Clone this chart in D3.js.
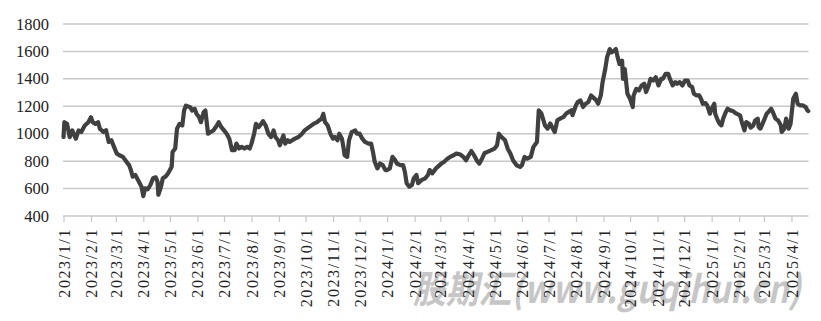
<!DOCTYPE html>
<html>
<head>
<meta charset="utf-8">
<script src="https://cdn.jsdelivr.net/npm/d3@7"></script>
<style>
  html, body { margin: 0; padding: 0; background: #fff; }
  svg { display: block; }
</style>
</head>
<body>
<svg id="chart" width="821" height="321"></svg>
<script>
const dates = [
  "2023-01-01","2023-01-02","2023-01-05","2023-01-08","2023-01-11","2023-01-14","2023-01-15","2023-01-18","2023-01-21","2023-01-25","2023-01-29",
  "2023-02-01","2023-02-03","2023-02-06","2023-02-09","2023-02-11","2023-02-15","2023-02-18","2023-02-21","2023-02-24","2023-02-27",
  "2023-03-02","2023-03-05","2023-03-09","2023-03-13","2023-03-16","2023-03-18","2023-03-20","2023-03-23","2023-03-26","2023-03-30",
  "2023-04-01","2023-04-03","2023-04-06","2023-04-09","2023-04-12","2023-04-15","2023-04-17","2023-04-18","2023-04-21","2023-04-23","2023-04-26","2023-04-29",
  "2023-05-03","2023-05-04","2023-05-07","2023-05-09","2023-05-12","2023-05-15","2023-05-17","2023-05-19","2023-05-24","2023-05-26","2023-05-29","2023-05-31",
  "2023-06-03","2023-06-05","2023-06-08","2023-06-10","2023-06-13","2023-06-16","2023-06-19","2023-06-23","2023-06-25","2023-06-28",
  "2023-07-01","2023-07-04","2023-07-07","2023-07-10","2023-07-13","2023-07-15","2023-07-18","2023-07-21","2023-07-24","2023-07-27","2023-07-30",
  "2023-08-01","2023-08-04","2023-08-06","2023-08-09","2023-08-12","2023-08-14","2023-08-17","2023-08-20","2023-08-23","2023-08-26","2023-08-28","2023-08-31",
  "2023-09-02","2023-09-04","2023-09-06","2023-09-08","2023-09-11","2023-09-13","2023-09-16","2023-09-19","2023-09-23","2023-09-27","2023-09-30",
  "2023-10-05","2023-10-10","2023-10-14","2023-10-16","2023-10-19","2023-10-21","2023-10-23","2023-10-26","2023-10-29",
  "2023-11-01","2023-11-03","2023-11-06","2023-11-08","2023-11-11","2023-11-13","2023-11-14","2023-11-17","2023-11-19","2023-11-22","2023-11-26","2023-11-28",
  "2023-12-01","2023-12-04","2023-12-07","2023-12-11","2023-12-14","2023-12-16","2023-12-18","2023-12-21","2023-12-24","2023-12-27","2023-12-30",
  "2024-01-01","2024-01-04","2024-01-07","2024-01-10","2024-01-12","2024-01-16","2024-01-19","2024-01-21","2024-01-23","2024-01-26","2024-01-29","2024-01-31",
  "2024-02-03","2024-02-05","2024-02-09","2024-02-13","2024-02-16","2024-02-18","2024-02-21","2024-02-25","2024-02-27",
  "2024-03-02","2024-03-05","2024-03-09","2024-03-12","2024-03-16","2024-03-19","2024-03-23","2024-03-27","2024-03-30",
  "2024-04-02","2024-04-05","2024-04-08","2024-04-11","2024-04-14","2024-04-17","2024-04-20","2024-04-23","2024-04-27",
  "2024-05-01","2024-05-04","2024-05-06","2024-05-09","2024-05-13","2024-05-16","2024-05-19","2024-05-22","2024-05-26","2024-05-30",
  "2024-06-01","2024-06-04","2024-06-07","2024-06-11","2024-06-14","2024-06-18","2024-06-20","2024-06-23","2024-06-27","2024-06-30",
  "2024-07-03","2024-07-05","2024-07-08","2024-07-11","2024-07-14","2024-07-18","2024-07-21","2024-07-24","2024-07-27","2024-07-28",
  "2024-08-01","2024-08-03","2024-08-06","2024-08-09","2024-08-12","2024-08-15","2024-08-18","2024-08-20","2024-08-24","2024-08-26","2024-08-29","2024-08-31",
  "2024-09-03","2024-09-05","2024-09-08","2024-09-10","2024-09-13","2024-09-15","2024-09-17","2024-09-19","2024-09-22","2024-09-23","2024-09-25","2024-09-28",
  "2024-10-01","2024-10-04","2024-10-05","2024-10-08","2024-10-11","2024-10-14","2024-10-17","2024-10-19","2024-10-22","2024-10-24","2024-10-27","2024-10-30",
  "2024-11-02","2024-11-05","2024-11-07","2024-11-10","2024-11-13","2024-11-15","2024-11-18","2024-11-21","2024-11-23","2024-11-26","2024-11-29",
  "2024-12-02","2024-12-05","2024-12-07","2024-12-10","2024-12-12","2024-12-15","2024-12-18","2024-12-20","2024-12-22","2024-12-25","2024-12-27","2024-12-30",
  "2025-01-01","2025-01-04","2025-01-05","2025-01-08","2025-01-10","2025-01-12","2025-01-14","2025-01-17","2025-01-19","2025-01-22","2025-01-25","2025-01-29",
  "2025-02-02","2025-02-04","2025-02-07","2025-02-09","2025-02-12","2025-02-14","2025-02-17","2025-02-19","2025-02-22","2025-02-23","2025-02-25",
  "2025-03-01","2025-03-04","2025-03-06","2025-03-09","2025-03-11","2025-03-14","2025-03-17","2025-03-20","2025-03-21","2025-03-24","2025-03-26","2025-03-29","2025-03-31",
  "2025-04-03","2025-04-06","2025-04-08","2025-04-11","2025-04-14","2025-04-17","2025-04-19","2025-04-20"
];
const prices = [
  976,1084,1072,975,1024,976,964,1024,1012,1060,1084,
  1120,1084,1072,1084,1036,1012,1025,940,952,904,
  856,843,831,795,771,735,687,699,663,614,
  545,602,595,626,675,682,651,555,614,675,687,711,
  759,867,892,1036,1072,1060,1169,1205,1193,1169,1181,1145,
  1120,1084,1157,1169,1000,1012,1024,1060,1084,1048,
  1024,1000,964,880,880,928,892,904,892,904,892,
  928,1000,1072,1048,1072,1092,1060,1000,976,1024,976,952,
  916,952,988,928,952,940,952,964,976,1000,1024,
  1048,1072,1084,1096,1108,1145,1084,1060,1000,
  964,976,952,1000,964,892,843,831,952,1012,1024,1000,
  1000,964,940,928,928,867,795,747,783,771,735,
  735,747,831,807,783,771,771,723,639,614,626,675,
  699,639,663,675,699,735,711,747,758,
  782,794,818,831,843,855,850,831,806,
  843,874,843,806,782,818,860,867,879,
  891,916,1000,976,952,891,855,806,770,758,
  770,831,818,831,904,940,1171,1147,1061,1037,
  1074,1049,1013,1098,1110,1123,1147,1159,1171,1135,
  1207,1231,1243,1195,1219,1231,1279,1267,1243,1219,1279,1376,
  1472,1557,1617,1593,1605,1617,1557,1508,1533,1400,1472,1292,
  1255,1195,1279,1327,1316,1352,1364,1304,1352,1400,1388,1412,
  1352,1400,1400,1436,1436,1400,1352,1376,1364,1376,1352,
  1388,1388,1352,1340,1291,1279,1279,1255,1218,1223,1206,1146,
  1182,1218,1146,1097,1073,1061,1110,1158,1182,1170,1165,1146,
  1134,1085,1025,1085,1073,1044,1061,1097,1110,1049,1037,
  1097,1146,1158,1182,1158,1110,1097,1061,1013,1037,1110,1037,1073,
  1255,1291,1218,1206,1206,1194,1170,1165
];
const yTicks = [400, 600, 800, 1000, 1200, 1400, 1600, 1800];
const xTickLabels = [
  "2023/1/1","2023/2/1","2023/3/1","2023/4/1","2023/5/1","2023/6/1","2023/7/1","2023/8/1","2023/9/1","2023/10/1","2023/11/1","2023/12/1",
  "2024/1/1","2024/2/1","2024/3/1","2024/4/1","2024/5/1","2024/6/1","2024/7/1","2024/8/1","2024/9/1","2024/10/1","2024/11/1","2024/12/1",
  "2025/1/1","2025/2/1","2025/3/1","2025/4/1"
];
const watermark = "股期汇(www.guqihui.cn)";

const parseDate = d3.utcParse("%Y-%m-%d");
const parseTick = d3.utcParse("%Y/%m/%d");
const data = dates.map((d, i) => ({ date: parseDate(d), value: prices[i] }));

const svg = d3.select("#chart");
const x = d3.scaleUtc()
  .domain([parseDate("2023-01-01"), parseDate("2025-04-20")])
  .range([63.5, 808.3]);
const y = d3.scaleLinear().domain([400, 1800]).range([216, 24]);

// watermark (behind everything)
svg.append("text")
  .attr("x", 413).attr("y", 303)
  .attr("textLength", 388).attr("lengthAdjust", "spacingAndGlyphs")
  .style("font-family", "'Noto Sans CJK SC', sans-serif")
  .style("font-size", "38px").style("font-weight", "bold").style("font-style", "italic")
  .style("fill", "#bdbdbd").style("opacity", 0.85)
  .text(watermark);

// gridlines
svg.append("g").selectAll("line")
  .data(yTicks.filter(t => t > 400))
  .join("line")
  .attr("x1", 63).attr("x2", 808.5)
  .attr("y1", d => y(d)).attr("y2", d => y(d))
  .attr("stroke", "#c8c8c8").attr("stroke-width", 1.5);

// y labels
svg.append("g").selectAll("text")
  .data(yTicks)
  .join("text")
  .attr("x", 49).attr("y", d => y(d))
  .attr("text-anchor", "end").attr("dominant-baseline", "central")
  .style("font-family", "'Liberation Serif', serif").style("font-size", "16.5px")
  .style("fill", "#222")
  .text(d => d);

// x axis
const tickDates = xTickLabels.map(s => parseTick(s));
const xAxis = d3.axisBottom(x)
  .tickValues(tickDates)
  .tickSize(6)
  .tickFormat((d, i) => xTickLabels[i]);
const gx = svg.append("g").attr("transform", "translate(0,216)").call(xAxis);
gx.select(".domain").attr("stroke", "#c8c8c8").attr("stroke-width", 1.5)
  .attr("d", "M63,0H808.5");
gx.selectAll(".tick line").attr("stroke", "#c8c8c8").attr("stroke-width", 1.2);
gx.selectAll(".tick text")
  .attr("transform", "rotate(-90)")
  .attr("x", -12).attr("y", 0).attr("dy", "0.35em")
  .attr("text-anchor", "end")
  .style("font-family", "'Liberation Serif', serif").style("font-size", "16px")
  .style("letter-spacing", "1.6px")
  .style("fill", "#222");

// line
const line = d3.line().x(d => x(d.date)).y(d => y(d.value));
svg.append("path")
  .datum(data)
  .attr("d", line)
  .attr("fill", "none")
  .attr("stroke", "#404040")
  .attr("stroke-width", 4.2)
  .attr("stroke-linejoin", "round")
  .attr("stroke-linecap", "round");
</script>
</body>
</html>
